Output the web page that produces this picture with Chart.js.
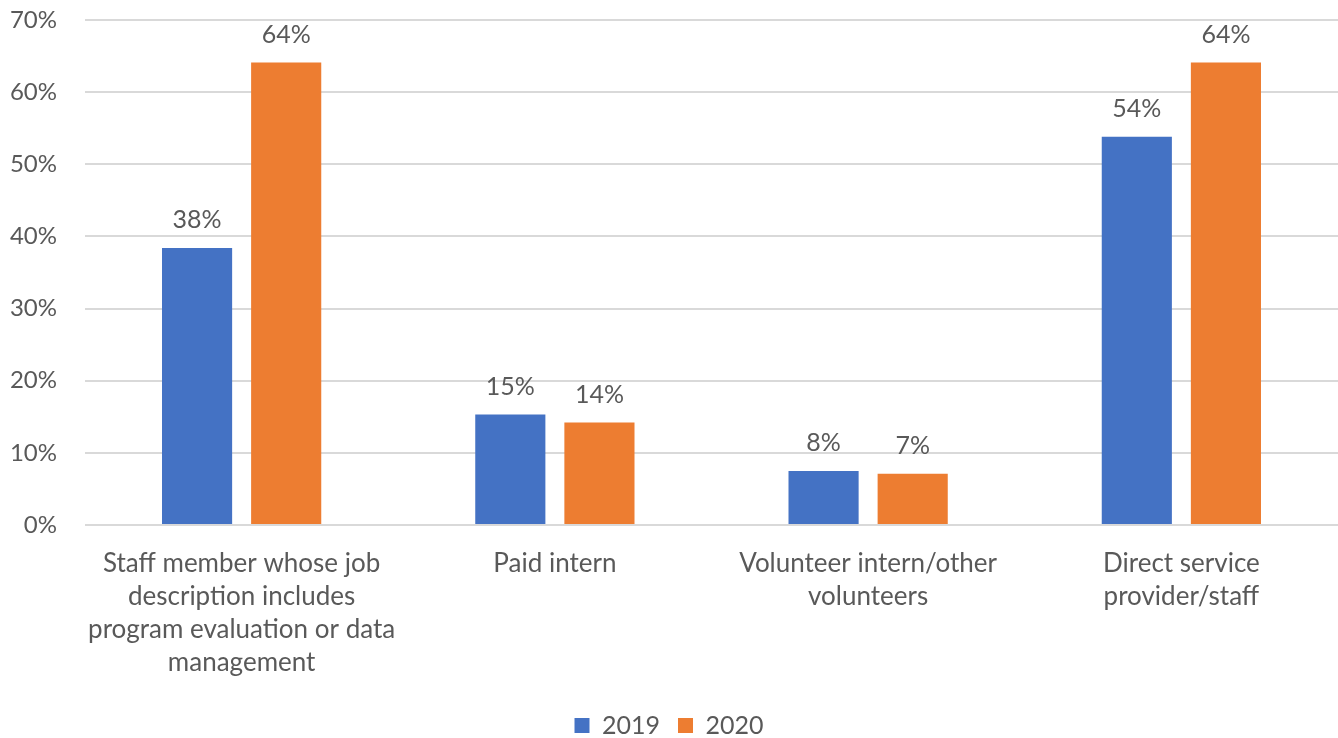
<!DOCTYPE html>
<html>
<head>
    <title>Evaluation staffing</title>
    <script src="https://cdn.jsdelivr.net/npm/chart.js"></script>
    <style>
        body { margin: 0; background: #fff; }
    </style>
</head>
<body>
    <canvas id="myChart" width="1338" height="738"></canvas>
    <script>
        var categories = [
            ['Staff member whose job', 'description includes', 'program evaluation or data', 'management'],
            'Paid intern',
            ['Volunteer intern/other', 'volunteers'],
            ['Direct service', 'provider/staff']
        ];
        var values2019 = [38.4, 15.3, 7.5, 53.8];
        var values2020 = [64.1, 14.2, 7.1, 64.1];
        var yTicks = [0, 10, 20, 30, 40, 50, 60, 70];

        var FONT = 'Lato, "Open Sans", sans-serif';
        var GREY = '#595959';

        // percentage labels above each bar
        var barLabels = {
            id: 'barLabels',
            afterDatasetsDraw: function(chart) {
                var ctx = chart.ctx;
                ctx.save();
                ctx.font = '25px ' + FONT;
                ctx.fillStyle = GREY;
                ctx.textAlign = 'center';
                ctx.textBaseline = 'alphabetic';
                chart.data.datasets.forEach(function(ds, i) {
                    chart.getDatasetMeta(i).data.forEach(function(bar, j) {
                        ctx.fillText(Math.round(ds.data[j]) + '%', bar.x, bar.y - 20);
                    });
                });
                ctx.restore();
            }
        };

        var ctx = document.getElementById('myChart').getContext('2d');
        var chart = new Chart(ctx, {
            type: 'bar',
            data: {
                labels: categories,
                datasets: [{
                    label: '2019',
                    data: values2019,
                    backgroundColor: '#4472C4'
                }, {
                    label: '2020',
                    data: values2020,
                    backgroundColor: '#ED7D31'
                }]
            },
            options: {
                responsive: false,
                animation: false,
                categoryPercentage: 0.569,
                barPercentage: 0.787,
                layout: { padding: { top: 0, right: 0, left: 0, bottom: -10 } },
                plugins: {
                    tooltip: { enabled: false },
                    legend: {
                        position: 'bottom',
                        labels: {
                            boxWidth: 15,
                            boxHeight: 15,
                            padding: 18,
                            color: GREY,
                            font: { family: FONT, size: 25 }
                        }
                    }
                },
                scales: {
                    x: {
                        afterFit: function(scale) { scale.height = 170; },
                        grid: { display: false },
                        border: { display: false },
                        ticks: {
                            color: GREY,
                            padding: 14,
                            maxRotation: 0,
                            autoSkip: false,
                            font: { family: FONT, size: 26, lineHeight: 1.27 }
                        }
                    },
                    y: {
                        min: 0,
                        max: 70,
                        afterFit: function(scale) {
                            scale.width = 85;
                            scale.paddingTop = 20;
                            scale.paddingBottom = 0;
                        },
                        afterBuildTicks: function(scale) {
                            scale.ticks = yTicks.map(function(v) { return { value: v }; });
                        },
                        grid: { color: '#D9D9D9', lineWidth: 2, drawTicks: false },
                        border: { display: false },
                        ticks: {
                            color: GREY,
                            padding: 28,
                            font: { family: FONT, size: 24 },
                            callback: function(v) { return v + '%'; }
                        }
                    }
                }
            },
            plugins: [barLabels]
        });
    </script>
</body>
</html>
